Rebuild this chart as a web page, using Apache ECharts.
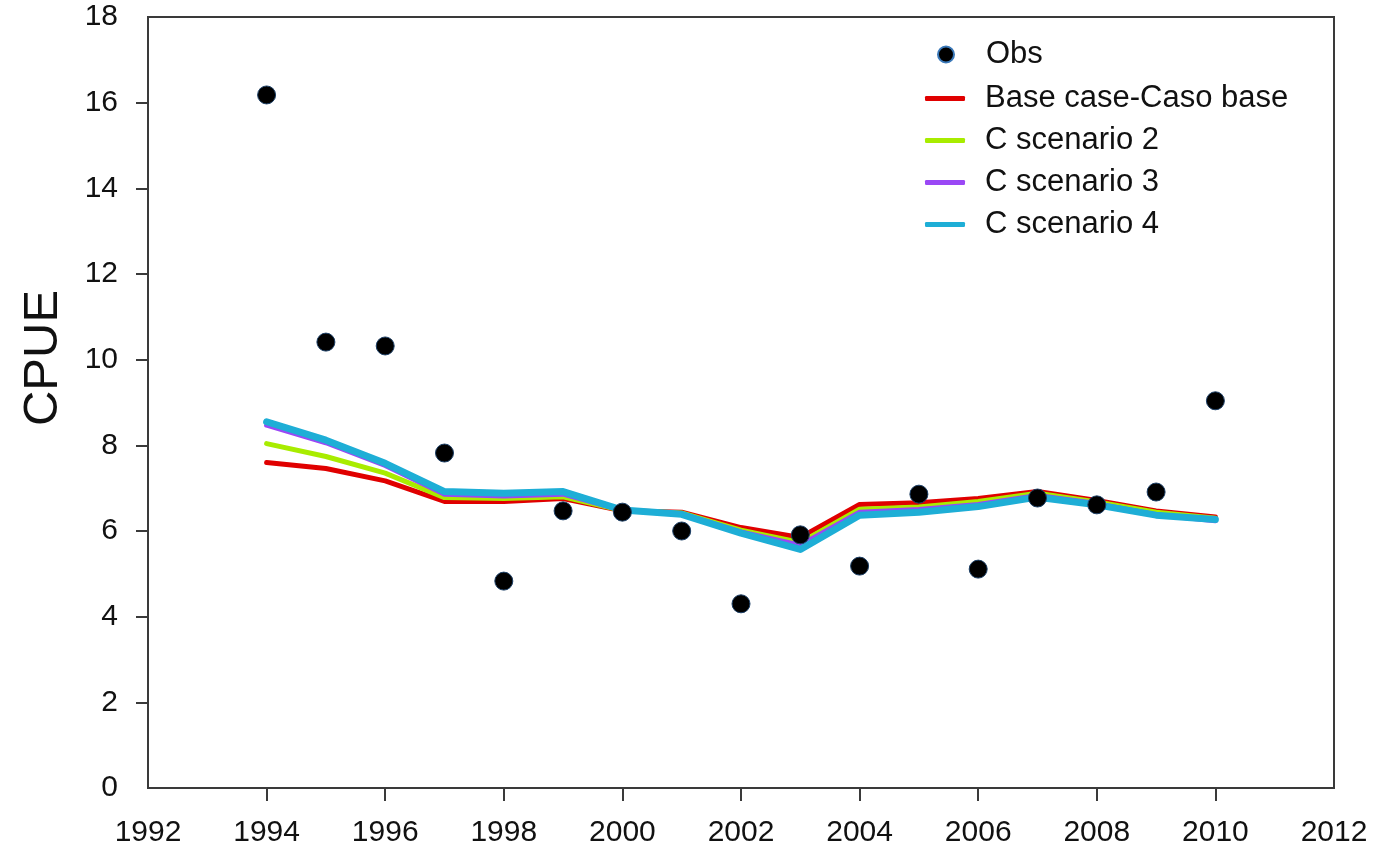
<!DOCTYPE html>
<html>
<head>
<meta charset="utf-8">
<script src="https://cdn.jsdelivr.net/npm/echarts@6/dist/echarts.min.js"></script>
<style>
html,body{margin:0;padding:0;background:#fff;}
#chart{width:1381px;height:849px;}
</style>
</head>
<body>
<div id="chart"></div>
<script>
const years = [1994,1995,1996,1997,1998,1999,2000,2001,2002,2003,2004,2005,2006,2007,2008,2009,2010];
const obs = [16.18,10.41,10.32,7.82,4.83,6.47,6.44,6.00,4.30,5.91,5.18,6.86,5.11,6.77,6.61,6.91,9.04];
const baseCase = [7.60,7.46,7.17,6.69,6.69,6.76,6.47,6.44,6.08,5.85,6.62,6.66,6.76,6.92,6.71,6.47,6.33];
const scen2 = [8.04,7.74,7.35,6.78,6.76,6.80,6.48,6.42,6.02,5.73,6.51,6.56,6.69,6.88,6.68,6.44,6.30];
const scen3 = [8.47,8.06,7.53,6.86,6.82,6.86,6.48,6.40,5.98,5.67,6.44,6.50,6.62,6.83,6.64,6.38,6.24];
const scen4 = [8.55,8.12,7.58,6.92,6.88,6.92,6.49,6.39,5.95,5.57,6.37,6.44,6.57,6.79,6.61,6.37,6.27];
const seriesNames = ['Obs','Base case-Caso base','C scenario 2','C scenario 3','C scenario 4'];
const yAxisTitle = 'CPUE';
const xTicks = [1994,1996,1998,2000,2002,2004,2006,2008,2010];
const yTicks = [2,4,6,8,10,12,14,16];

const pair = arr => years.map((y,i)=>[y,arr[i]]);
const font = "'Liberation Sans', Arial, sans-serif";
const axisColor = '#3a3a3a';
const colors = ['#e00000','#a8ec00','#9a48f5','#1eaed6'];

const chart = echarts.init(document.getElementById('chart'), null, {renderer:'canvas'});
const lineSeries = (name, data, color, width) => ({
  name, type:'line', data: pair(data), showSymbol:false, symbol:'none',
  lineStyle:{color, width, cap:'round', join:'round'}, itemStyle:{color}, z:2, animation:false
});
chart.setOption({
  animation:false,
  backgroundColor:'#fff',
  grid:{left:148, right:47, top:17, bottom:61, show:true, borderColor:axisColor, borderWidth:2, containLabel:false},
  graphic:[{
    type:'text', x:43, y:358, rotation:Math.PI/2,
    style:{text:yAxisTitle, fill:'#111', font:"49px 'Liberation Sans', Arial, sans-serif", align:'center', verticalAlign:'middle'}
  }],
  xAxis:{
    type:'value', min:1992, max:2012, interval:2,
    splitLine:{show:false},
    axisLine:{show:true, lineStyle:{color:axisColor, width:2}},
    axisTick:{show:true, length:13, inside:false, customValues:xTicks, lineStyle:{color:axisColor, width:2}},
    axisLabel:{color:'#111', fontSize:30, fontFamily:font, margin:30, formatter:v=>String(v)}
  },
  yAxis:{
    type:'value', min:0, max:18, interval:2,
    splitLine:{show:false},
    axisLine:{show:true, lineStyle:{color:axisColor, width:2}},
    axisTick:{show:true, length:12, inside:false, customValues:yTicks, lineStyle:{color:axisColor, width:2}},
    axisLabel:{color:'#111', fontSize:30, fontFamily:font, margin:30}
  },
  legend:[
    {
      data:[{name:seriesNames[0], icon:'circle', itemStyle:{color:'#000', borderColor:'#3a78b8', borderWidth:2}}],
      orient:'vertical', left:932, top:34, itemWidth:40, itemHeight:16,
      textStyle:{color:'#111', fontSize:31, fontFamily:font, padding:[0,0,0,15]},
      selectedMode:false
    },
    {
      data:seriesNames.slice(1).map((n,i)=>({name:n, icon:'roundRect', itemStyle:{color:colors[i]}})),
      orient:'vertical', left:920, top:78, itemWidth:40, itemHeight:5, itemGap:11,
      textStyle:{color:'#111', fontSize:31, fontFamily:font, padding:[0,0,0,15]},
      selectedMode:false
    }
  ],
  series:[
    lineSeries(seriesNames[1], baseCase, colors[0], 5),
    lineSeries(seriesNames[2], scen2, colors[1], 5),
    lineSeries(seriesNames[3], scen3, colors[2], 5),
    lineSeries(seriesNames[4], scen4, colors[3], 7),
    {
      name:seriesNames[0], type:'scatter', data:pair(obs), symbol:'circle', symbolSize:18,
      itemStyle:{color:'#000', borderColor:'#1c3f66', borderWidth:1, opacity:1}, z:5
    }
  ]
});
</script>
</body>
</html>
